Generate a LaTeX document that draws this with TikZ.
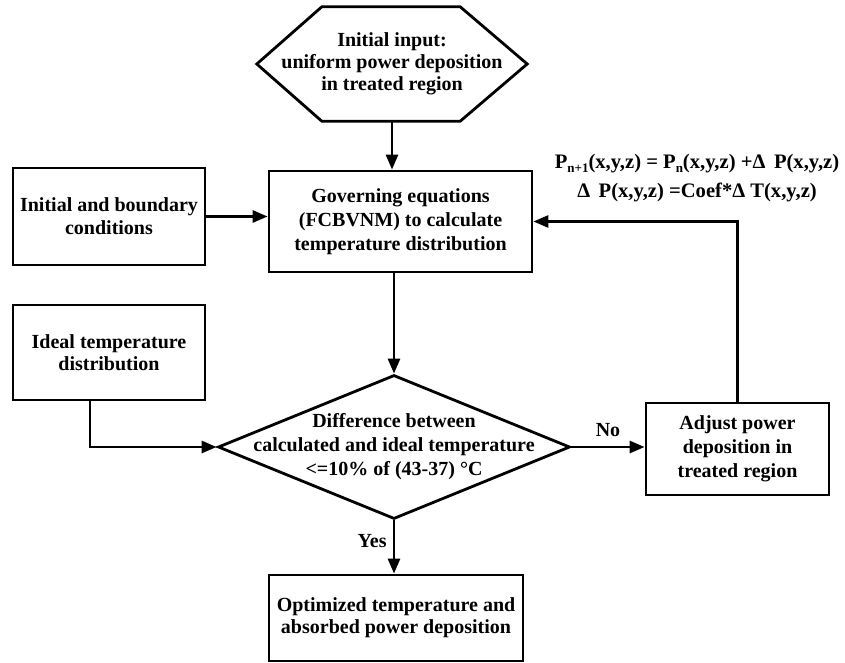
\documentclass[tikz,border=0pt]{standalone}
\usepackage{fontspec}
\setmainfont{Liberation Serif}
\usetikzlibrary{arrows.meta,shapes.geometric,calc}
\begin{document}
\begin{tikzpicture}[x=1pt,y=-1pt,
  every node/.style={font=\bfseries\fontsize{20}{23}\selectfont, align=center, inner sep=0pt},
  box/.style={draw, line width=2.8pt, rectangle},
  arr/.style={line width=2.8pt, -{Triangle[length=15pt,width=12pt]}},
  lbl/.style={font=\bfseries\fontsize{20}{23}\selectfont}]
\useasboundingbox (0,0) rectangle (845,663);
% hexagon (initial input)
\node[minimum width=270pt, minimum height=114pt, font=\bfseries\fontsize{20}{22}\selectfont] (hex) at (392,64)
  {Initial input:\\uniform power deposition\\in treated region};
\draw[line width=2.8pt, line join=miter] (hex.west) -- ($(hex.north west)+(65,0)$) -- ($(hex.north east)+(-67,0)$)
  -- (hex.east) -- ($(hex.south east)+(-67,0)$) -- ($(hex.south west)+(65,0)$) -- cycle;
% boxes
\node[box, minimum width=263pt, minimum height=101pt, font=\bfseries\fontsize{20}{24}\selectfont] (gov) at (400.5,221.5)
  {Governing equations\\(FCBVNM) to calculate\\temperature distribution};
\node[box, minimum width=192pt, minimum height=97pt] (init) at (109,216.5)
  {Initial and boundary\\conditions};
\node[box, minimum width=192pt, minimum height=95pt, font=\bfseries\fontsize{20}{22}\selectfont] (ideal) at (109,352.5)
  {Ideal temperature\\distribution};
\node[draw, line width=2.8pt, diamond, minimum width=352pt, minimum height=144pt] (dia) at (394,447) {};
\node[font=\bfseries\fontsize{20}{24}\selectfont] (diatext) at (394,447)
  {Difference between\\calculated and ideal temperature\\<=10\% of (43-37) °C};
\node[box, minimum width=183pt, minimum height=92pt, font=\bfseries\fontsize{20}{24}\selectfont] (adj) at (737.5,449)
  {Adjust power\\deposition in\\treated region};
\node[box, minimum width=254pt, minimum height=86pt, font=\bfseries\fontsize{20}{22}\selectfont] (fin) at (396,618)
  {Optimized temperature and\\absorbed power deposition};
% equations
\node[font=\bfseries\fontsize{20.6}{29}\selectfont] (eq) at (697,178)
  {P\raisebox{-4pt}{\fontsize{13}{13}\selectfont n+1}(x,y,z) = P\raisebox{-4pt}{\fontsize{13}{13}\selectfont n}(x,y,z) +Δ\, P(x,y,z)\\
   Δ\, P(x,y,z) =Coef*Δ T(x,y,z)};
% connectors
\draw[arr] (hex.south) -- (hex.south |- gov.north);
\draw[arr] (init.east) -- (init.east -| gov.west);
\draw[arr] (dia.north |- gov.south) -- (dia.north);
\draw[arr] ($(ideal.south)+(-19,0)$) |- (dia.west);
\draw[arr] (dia.east) -- node[lbl, above=9pt] (no) {No} (dia.east -| adj.west);
\draw[arr] (adj.north) |- (gov.east);
\draw[arr] (dia.south) -- node[lbl, left=6pt, pos=0.38] (yes) {Yes} (dia.south |- fin.north);
\end{tikzpicture}
\end{document}
